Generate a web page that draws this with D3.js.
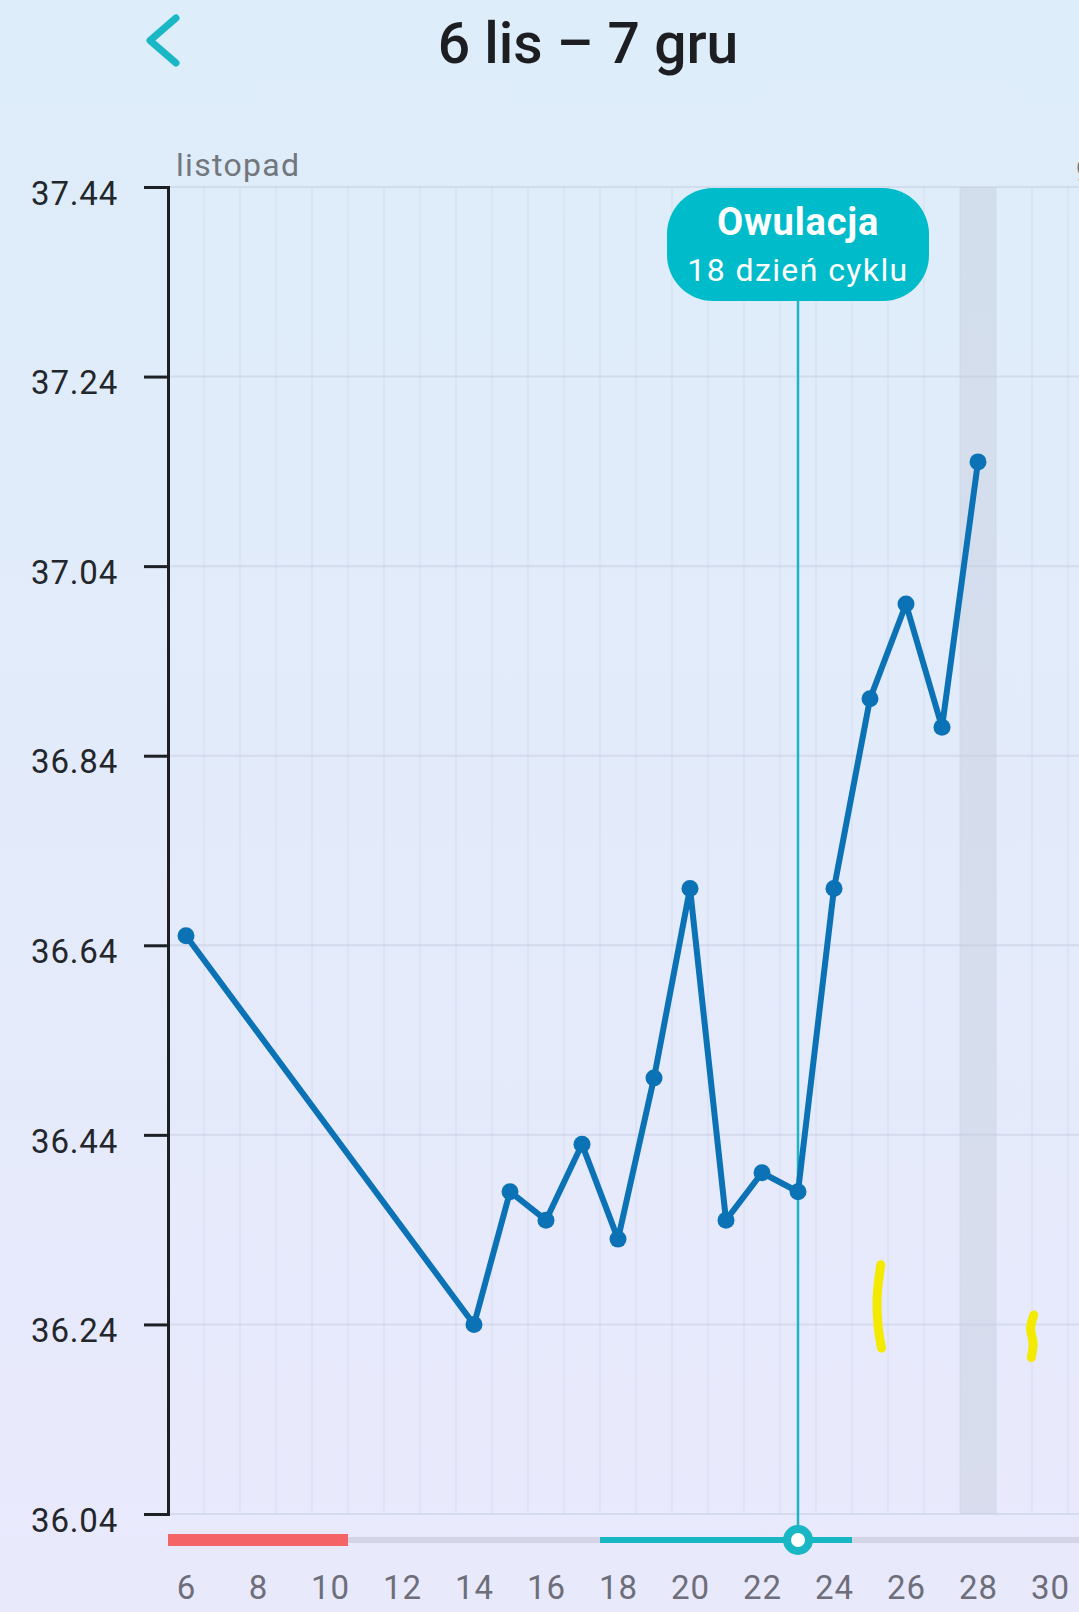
<!DOCTYPE html>
<html>
<head>
<meta charset="utf-8">
<script src="https://cdn.jsdelivr.net/npm/d3@7"></script>
<style>
  html, body { margin: 0; padding: 0; }
  body { width: 1079px; height: 1612px; overflow: hidden; font-family: Roboto, "Noto Sans", sans-serif; }
</style>
</head>
<body>
<svg id="chart"></svg>
<script>
// cycle days (November) and morning temperatures
const days = [6, 14, 15, 16, 17, 18, 19, 20, 21, 22, 23, 24, 25, 26, 27, 28];
const temps = [36.65, 36.24, 36.38, 36.35, 36.43, 36.33, 36.50, 36.70, 36.35, 36.40, 36.38, 36.70, 36.90, 37.00, 36.87, 37.15];

const yTicks = [36.04, 36.24, 36.44, 36.64, 36.84, 37.04, 37.24, 37.44];
const xTicks = [6, 8, 10, 12, 14, 16, 18, 20, 22, 24, 26, 28, 30];

const title = '6 lis – 7 gru';
const monthLabels = [{ day: 1, label: 'listopad' }, { day: 31, label: 'grudzień' }];

// phases on the bottom strip
const periodDays = [5.5, 10.5];
const fertileDays = [17.5, 24.5];
const ovulationDay = 23;
const todayDay = 28;

// yellow scribbles seen on the chart
const scribbles = [
  [[25.3, 36.303], [25.2, 36.27], [25.22, 36.24], [25.32, 36.215]],
  [[29.55, 36.25], [29.46, 36.236], [29.53, 36.22], [29.48, 36.205]]
];

const W = 1079, H = 1612;
const margin = { top: 187, left: 168, bottom: 98 };

const svg = d3.select('#chart')
  .attr('width', W)
  .attr('height', H);

// background gradient
const defs = svg.append('defs');
const grad = defs.append('linearGradient')
  .attr('id', 'bg')
  .attr('x1', 0).attr('y1', 0).attr('x2', 0).attr('y2', 1);
grad.append('stop').attr('offset', '0%').attr('stop-color', '#ddedf9');
grad.append('stop').attr('offset', '100%').attr('stop-color', '#e9e9fc');
svg.append('rect').attr('width', W).attr('height', H).attr('fill', 'url(#bg)');

const x = d3.scaleLinear()
  .domain([5.5, 31.5])
  .range([margin.left, margin.left + 26 * 36]);

const y = d3.scaleLinear()
  .domain([36.04, 37.44])
  .range([H - margin.bottom, margin.top]);

const plotTop = y(37.44), plotBottom = y(36.04);

// today highlight
svg.append('rect')
  .attr('x', x(todayDay - 0.5))
  .attr('y', plotTop)
  .attr('width', x(todayDay + 0.5) - x(todayDay - 0.5))
  .attr('height', plotBottom - plotTop)
  .attr('fill', '#c7cfe0')
  .attr('opacity', 0.5);

// vertical grid at day boundaries
const boundaries = d3.range(6.5, 31.5, 1);
svg.append('g')
  .selectAll('line')
  .data(boundaries)
  .enter()
  .append('line')
  .attr('x1', d => x(d)).attr('x2', d => x(d))
  .attr('y1', plotTop).attr('y2', plotBottom)
  .attr('stroke', '#c9d2e6')
  .attr('stroke-opacity', 0.35)
  .attr('stroke-width', 1.5);

// horizontal grid
svg.append('g')
  .selectAll('line')
  .data(yTicks)
  .enter()
  .append('line')
  .attr('x1', margin.left).attr('x2', W)
  .attr('y1', d => y(d)).attr('y2', d => y(d))
  .attr('stroke', '#c3cbe0')
  .attr('stroke-opacity', 0.5)
  .attr('stroke-width', 2);

// month labels
svg.append('g')
  .selectAll('text')
  .data(monthLabels)
  .enter()
  .append('text')
  .attr('x', d => Math.max(x(d.day - 0.5), margin.left) + 8)
  .attr('y', plotTop - 11)
  .attr('fill', '#72767d')
  .style('font-size', '32px')
  .style('letter-spacing', '1.3px')
  .text(d => d.label);

// y axis
const yAxis = svg.append('g')
  .attr('transform', `translate(${margin.left},0)`)
  .call(d3.axisLeft(y).tickValues(yTicks).tickFormat(d3.format('.2f')).tickSize(24).tickPadding(26));
yAxis.select('.domain').attr('stroke', '#1c1f24').attr('stroke-width', 3);
yAxis.selectAll('.tick line').attr('stroke', '#1c1f24').attr('stroke-width', 3);
yAxis.selectAll('.tick text')
  .attr('fill', '#23262b')
  .attr('dy', '0.52em')
  .style('font-size', '33px')
  .style('font-family', 'Roboto, sans-serif')
  .style('letter-spacing', '0.8px');

// x axis (labels only)
const xAxis = svg.append('g')
  .attr('transform', `translate(0,${H - 13})`)
  .call(d3.axisBottom(x).tickValues(xTicks).tickSize(0).tickPadding(0));
xAxis.select('.domain').remove();
xAxis.selectAll('.tick text')
  .attr('fill', '#6e6e7a')
  .attr('dy', '0')
  .style('font-size', '33px')
  .style('font-family', 'Roboto, sans-serif')
  .style('letter-spacing', '1px');

// bottom phase strip
const stripY = H - 72;
svg.append('rect')
  .attr('x', x(periodDays[1])).attr('y', stripY - 3)
  .attr('width', W - x(periodDays[1])).attr('height', 6)
  .attr('fill', '#d3d4e6');
svg.append('rect')
  .attr('x', x(periodDays[0])).attr('y', stripY - 6)
  .attr('width', x(periodDays[1]) - x(periodDays[0])).attr('height', 12)
  .attr('fill', '#f46466');
svg.append('rect')
  .attr('x', x(fertileDays[0])).attr('y', stripY - 3)
  .attr('width', x(fertileDays[1]) - x(fertileDays[0])).attr('height', 6)
  .attr('fill', '#19b7c3');

// ovulation marker line
svg.append('line')
  .attr('x1', x(ovulationDay)).attr('x2', x(ovulationDay))
  .attr('y1', plotTop + 100).attr('y2', stripY)
  .attr('stroke', '#1cb6c2')
  .attr('stroke-width', 2.5);

// scribbles
const scribbleLine = d3.line()
  .x(d => x(d[0]))
  .y(d => y(d[1]))
  .curve(d3.curveCatmullRom);
svg.append('g')
  .selectAll('path')
  .data(scribbles)
  .enter()
  .append('path')
  .attr('d', scribbleLine)
  .attr('fill', 'none')
  .attr('stroke', '#f3ea00')
  .attr('stroke-width', 9)
  .attr('stroke-linecap', 'round');

// temperature line
const pts = days.map((d, i) => ({ day: d, t: temps[i] }));
const line = d3.line()
  .x(d => x(d.day))
  .y(d => y(d.t));

svg.append('path')
  .datum(pts)
  .attr('fill', 'none')
  .attr('stroke', '#0b72b5')
  .attr('stroke-width', 6)
  .attr('stroke-linejoin', 'round')
  .attr('d', line);

svg.append('g')
  .selectAll('circle')
  .data(pts)
  .enter()
  .append('circle')
  .attr('cx', d => x(d.day))
  .attr('cy', d => y(d.t))
  .attr('r', 8.5)
  .attr('fill', '#0b72b5');

// ovulation circle on strip
svg.append('circle')
  .attr('cx', x(ovulationDay))
  .attr('cy', stripY)
  .attr('r', 11)
  .attr('fill', '#ffffff')
  .attr('stroke', '#19b7c3')
  .attr('stroke-width', 8);

// ovulation tooltip
const tipW = 262, tipH = 113;
const tip = svg.append('g')
  .attr('transform', `translate(${x(ovulationDay)},${plotTop + 1})`);
tip.append('rect')
  .attr('x', -tipW / 2).attr('y', 0)
  .attr('width', tipW).attr('height', tipH)
  .attr('rx', 46)
  .attr('fill', '#00bcca');
tip.append('text')
  .attr('y', 47)
  .attr('text-anchor', 'middle')
  .attr('fill', '#ffffff')
  .style('font-size', '38px')
  .style('font-weight', 'bold')
  .style('letter-spacing', '0.8px')
  .text('Owulacja');
tip.append('text')
  .attr('y', 93)
  .attr('text-anchor', 'middle')
  .attr('fill', '#ffffff')
  .style('font-size', '32px')
  .style('letter-spacing', '1.4px')
  .text('18 dzień cyklu');

// header
svg.append('path')
  .attr('d', 'M176,18 L150,40.5 L176,63')
  .attr('fill', 'none')
  .attr('stroke', '#1ab8c6')
  .attr('stroke-width', 7)
  .attr('stroke-linecap', 'round')
  .attr('stroke-linejoin', 'round');

svg.append('text')
  .attr('x', 588)
  .attr('y', 63)
  .attr('text-anchor', 'middle')
  .attr('fill', '#1c1e21')
  .style('font-size', '57px')
  .style('font-weight', 500)
  .text(title);
</script>
</body>
</html>
